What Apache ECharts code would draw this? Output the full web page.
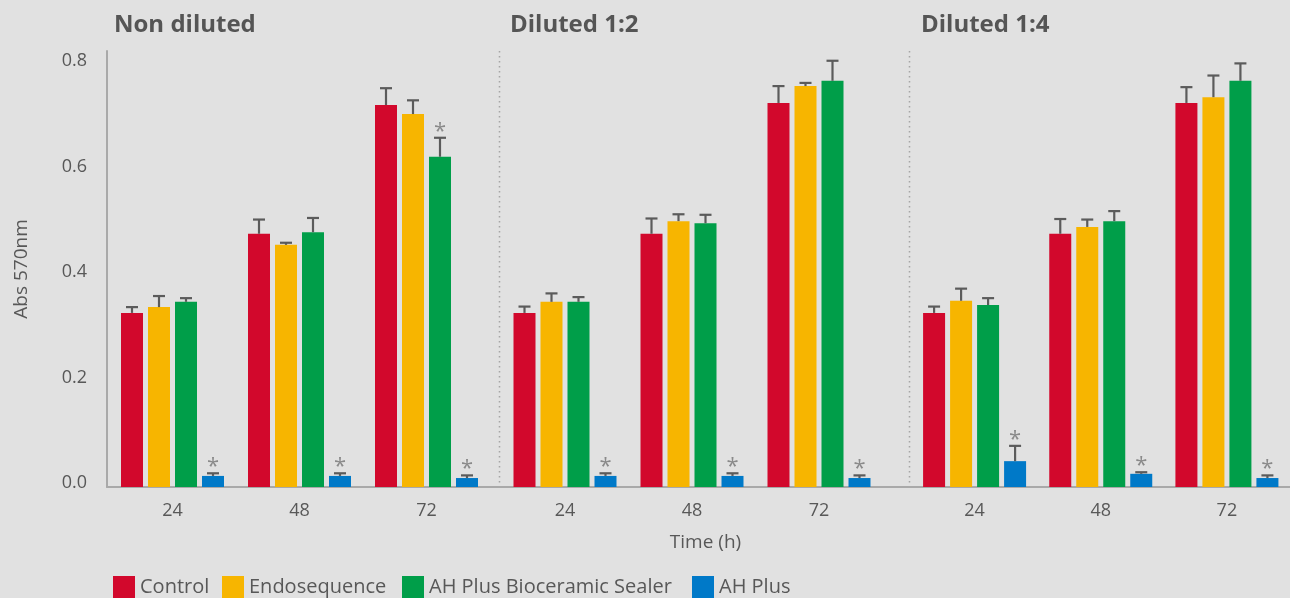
<!DOCTYPE html>
<html>
<head>
<meta charset="utf-8">
<script src="https://cdn.jsdelivr.net/npm/echarts@6/dist/echarts.min.js"></script>
<style>
html,body{margin:0;padding:0;background:#e1e1e1;}
#chart{width:1290px;height:598px;}
</style>
</head>
<body>
<div id="chart"></div>
<script>
// ---------- DATA ----------
const panels = ['Non diluted', 'Diluted 1:2', 'Diluted 1:4'];
const categories = ['24', '48', '72'];
const seriesNames = ['Control', 'Endosequence', 'AH Plus Bioceramic Sealer', 'AH Plus'];
const yTicks = [0, 0.2, 0.4, 0.6, 0.8];

// means per panel (rows) and time (columns)
const controlMean   = [[0.330, 0.480, 0.724], [0.330, 0.480, 0.728], [0.330, 0.480, 0.728]];
const endoMean      = [[0.341, 0.459, 0.707], [0.351, 0.504, 0.760], [0.353, 0.493, 0.739]];
const bioMean       = [[0.351, 0.483, 0.626], [0.351, 0.500, 0.770], [0.345, 0.504, 0.770]];
const ahPlusMean    = [[0.021, 0.021, 0.017], [0.021, 0.021, 0.017], [0.049, 0.025, 0.017]];

// error (SD) per panel and time
const controlErr    = [[0.011, 0.027, 0.032], [0.012, 0.029, 0.032], [0.012, 0.028, 0.030]];
const endoErr       = [[0.021, 0.004, 0.026], [0.016, 0.013, 0.006], [0.023, 0.014, 0.041]];
const bioErr        = [[0.007, 0.027, 0.036], [0.009, 0.016, 0.038], [0.013, 0.019, 0.033]];
const ahPlusErr     = [[0.005, 0.005, 0.005], [0.005, 0.005, 0.005], [0.029, 0.003, 0.005]];

// significance markers (*)
const controlSig    = [[0, 0, 0], [0, 0, 0], [0, 0, 0]];
const endoSig       = [[0, 0, 0], [0, 0, 0], [0, 0, 0]];
const bioSig        = [[0, 0, 1], [0, 0, 0], [0, 0, 0]];
const ahPlusSig     = [[1, 1, 1], [1, 1, 1], [1, 1, 1]];

// ---------- STYLE / LAYOUT ----------
const colors = ['#d2082c', '#f7b500', '#009e49', '#0079c8'];
const FONT = 'Open Sans';
const TXT = '#585858';
const AXIS = '#a9a9a9';
const BAR_W = 22, BAR_GAP = 5;
const Y_MAX = 0.8265;
const GRID_TOP = 51, GRID_BOTTOM = 111;
const panelLeft = [109, 501.5, 911.5];
const panelWidth = 381;
const titleLeft = [114, 510, 921];
const legendLeft = [113, 222, 402, 692];
const dividerX = [499.5, 909.5];

const means = [controlMean, endoMean, bioMean, ahPlusMean];
const errs = [controlErr, endoErr, bioErr, ahPlusErr];
const sigs = [controlSig, endoSig, bioSig, ahPlusSig];

const chart = echarts.init(document.getElementById('chart'), null, {renderer: 'canvas'});

const grids = [{left: 107, right: 0, top: GRID_TOP, bottom: GRID_BOTTOM}];
const xAxes = [{
  gridIndex: 0, type: 'category', data: [''],
  axisLine: {show: true, lineStyle: {color: AXIS, width: 2}},
  axisTick: {show: false}, axisLabel: {show: false}
}];
const yAxes = [{
  gridIndex: 0, type: 'value', min: 0, max: Y_MAX, interval: 0.2,
  axisLine: {show: true, lineStyle: {color: AXIS, width: 2}},
  axisTick: {show: false}, splitLine: {show: false},
  axisLabel: {
    color: TXT, fontSize: 18, fontFamily: FONT, margin: 20,
    verticalAlign: 'bottom', lineHeight: 8,
    formatter: v => yTicks.some(t => Math.abs(t - v) < 1e-6) ? v.toFixed(1) : ''
  },
  name: 'Abs 570nm', nameLocation: 'middle', nameRotate: 90, nameGap: 76,
  nameTextStyle: {color: TXT, fontSize: 19, fontFamily: FONT}
}];
const series = [];

panels.forEach((p, pi) => {
  grids.push({left: panelLeft[pi], width: panelWidth, top: GRID_TOP, bottom: GRID_BOTTOM});
  xAxes.push({
    gridIndex: pi + 1, type: 'category', data: categories,
    axisLine: {show: false}, axisTick: {show: false},
    axisLabel: {color: TXT, fontSize: 18, fontFamily: FONT, margin: 15}
  });
  yAxes.push({
    gridIndex: pi + 1, type: 'value', min: 0, max: Y_MAX, interval: 0.2, show: false
  });
  seriesNames.forEach((n, si) => {
    series.push({
      type: 'bar', name: n, xAxisIndex: pi + 1, yAxisIndex: pi + 1,
      data: means[si][pi], barWidth: BAR_W, barGap: (BAR_GAP / BAR_W * 100) + '%',
      itemStyle: {color: colors[si]}, emphasis: {disabled: true}, z: 2
    });
  });
  const ebData = [];
  seriesNames.forEach((n, si) => {
    categories.forEach((c, ci) => {
      ebData.push([ci, si, means[si][pi][ci], errs[si][pi][ci], sigs[si][pi][ci]]);
    });
  });
  series.push({
    type: 'custom', xAxisIndex: pi + 1, yAxisIndex: pi + 1, z: 5, silent: true,
    encode: {x: 0, y: 2},
    data: ebData,
    renderItem: (params, api) => {
      const ci = api.value(0), si = api.value(1), m = api.value(2), e = api.value(3), s = api.value(4);
      const base = api.coord([ci, m]);
      const top = api.coord([ci, m + e]);
      const x = base[0] + (si - 1.5) * (BAR_W + BAR_GAP);
      const st = {stroke: '#5b5b5b', lineWidth: 2.2};
      const children = [
        {type: 'line', shape: {x1: x, y1: base[1], x2: x, y2: top[1]}, style: st},
        {type: 'line', shape: {x1: x - 6, y1: top[1], x2: x + 6, y2: top[1]}, style: st}
      ];
      if (s) {
        children.push({type: 'text', x: x, y: top[1] - 6.5,
          style: {text: '*', fill: '#8a8a8a', fontSize: 22, fontFamily: FONT,
                  align: 'center', verticalAlign: 'middle'}});
      }
      return {type: 'group', children};
    }
  });
});

const legends = seriesNames.map((n, i) => ({
  data: [n], left: legendLeft[i], top: 576, padding: 0, itemWidth: 22, itemHeight: 22,
  icon: 'rect', selectedMode: false,
  textStyle: {color: TXT, fontSize: 20, fontFamily: FONT, padding: [3, 0, 0, 0]}
}));

const titles = panels.map((p, i) => ({
  text: p, left: titleLeft[i], top: 13, padding: 0,
  textStyle: {color: '#555', fontSize: 24, fontWeight: 'bold', fontFamily: FONT}
}));

const graphics = dividerX.map(x => ({
  type: 'line', shape: {x1: x, y1: GRID_TOP, x2: x, y2: 598 - GRID_BOTTOM},
  style: {stroke: '#a5a5a5', lineWidth: 1.5, lineDash: [1.5, 3.5]}, silent: true
}));
graphics.push({
  type: 'text', x: 705.5, y: 543,
  style: {text: 'Time (h)', fill: TXT, fontSize: 19, fontFamily: FONT, align: 'center', verticalAlign: 'middle'}
});

chart.setOption({
  backgroundColor: '#e1e1e1',
  animation: false,
  title: titles,
  legend: legends,
  grid: grids,
  xAxis: xAxes,
  yAxis: yAxes,
  series: series,
  graphic: graphics
});
</script>
</body>
</html>
